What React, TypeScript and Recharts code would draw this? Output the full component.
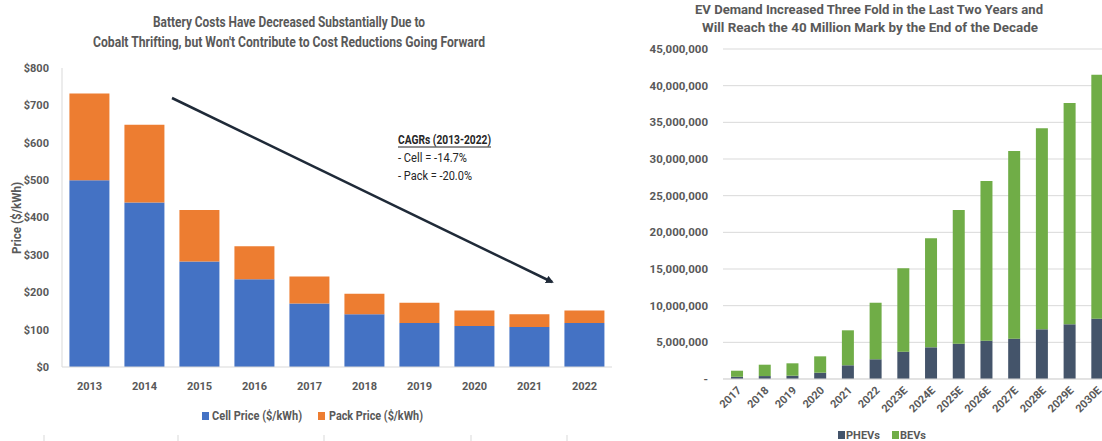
import React from "react";
import { BarChart, Bar, XAxis, YAxis, CartesianGrid } from "recharts";

// battery cost chart ($/kWh)
const costYears = ["2013", "2014", "2015", "2016", "2017", "2018", "2019", "2020", "2021", "2022"];
const cellPrice = [500, 440, 282, 235, 170, 141, 118, 110, 107, 118];
const packPremium = [232, 208, 138, 88, 72, 55, 54, 41, 34, 33];
const priceTicks = [0, 100, 200, 300, 400, 500, 600, 700, 800];

// EV demand chart (units)
const evYears = ["2017", "2018", "2019", "2020", "2021", "2022", "2023E", "2024E", "2025E", "2026E", "2027E", "2028E", "2029E", "2030E"];
const phevs = [300000, 400000, 450000, 860000, 1870000, 2690000, 3730000, 4320000, 4820000, 5230000, 5500000, 6780000, 7460000, 8230000];
const bevs = [830000, 1550000, 1690000, 2230000, 4770000, 7710000, 11370000, 14880000, 18230000, 21770000, 25600000, 27420000, 30190000, 33270000];
const evTicks = [0, 5000000, 10000000, 15000000, 20000000, 25000000, 30000000, 35000000, 40000000, 45000000];

const costData = costYears.map((year, i) => ({ year, cell: cellPrice[i], pack: packPremium[i] }));
const evData = evYears.map((year, i) => ({ year, phev: phevs[i], bev: bevs[i] }));

const FONT = "Roboto, 'Noto Sans', sans-serif";
const GREY = "#595959";

const EvTick = (props: any) => {
    const { x, y, payload } = props;
    return (
        <text
            x={x + 5}
            y={y + 12}
            transform={`rotate(-45, ${x + 5}, ${y + 12})`}
            textAnchor="end"
            fontFamily={FONT}
            fontWeight="bold"
            fontSize={11}
            fill={GREY}
        >
            {payload.value}
        </text>
    );
};

export default function App() {
    return (
        <div style={{ position: "absolute", left: 0, top: 0, width: 1102, height: 441, overflow: "hidden", background: "#fff" }}>
            <div style={{ position: "absolute", left: 0, top: 0 }}>
                <BarChart
                    width={620}
                    height={441}
                    data={costData}
                    margin={{ top: 68, right: 8, bottom: 44, left: 0 }}
                    barCategoryGap="13.5%"
                >
                    <XAxis
                        dataKey="year"
                        height={30}
                        tickLine={false}
                        tickSize={0}
                        tickMargin={15}
                        axisLine={{ stroke: "#D9D9D9" }}
                        tick={{ fontFamily: FONT, fontWeight: "bold", fontSize: 11, fill: GREY }}
                    />
                    <YAxis
                        width={62}
                        domain={[0, 800]}
                        ticks={priceTicks}
                        interval={0}
                        tickLine={false}
                        tickSize={0}
                        tickMargin={13}
                        axisLine={{ stroke: "#D9D9D9" }}
                        tickFormatter={(v: number) => `$${v}`}
                        tick={{ fontFamily: FONT, fontWeight: "bold", fontSize: 11, fill: GREY }}
                    />
                    <Bar dataKey="cell" stackId="a" fill="#4472C4" isAnimationActive={false} />
                    <Bar dataKey="pack" stackId="a" fill="#ED7D31" isAnimationActive={false} />
                </BarChart>
            </div>

            <div style={{ position: "absolute", left: 600, top: 0 }}>
                <BarChart
                    width={530}
                    height={441}
                    data={evData}
                    margin={{ top: 49, right: 19, bottom: 12, left: 0 }}
                    barCategoryGap="29%"
                >
                    <CartesianGrid vertical={false} stroke="#D9D9D9" />
                    <XAxis
                        dataKey="year"
                        height={50}
                        interval={0}
                        tickLine={false}
                        tickSize={0}
                        tickMargin={0}
                        axisLine={{ stroke: "#D9D9D9" }}
                        tick={<EvTick />}
                    />
                    <YAxis
                        width={123}
                        domain={[0, 45000000]}
                        ticks={evTicks}
                        interval={0}
                        tickLine={false}
                        axisLine={false}
                        tickSize={0}
                        tickMargin={15}
                        tickFormatter={(v: number) => (v === 0 ? "-" : v.toLocaleString("en-US"))}
                        tick={{ fontFamily: FONT, fontWeight: "bold", fontSize: 11.5, fill: GREY }}
                    />
                    <Bar dataKey="phev" stackId="b" fill="#44546A" isAnimationActive={false} />
                    <Bar dataKey="bev" stackId="b" fill="#70AD47" isAnimationActive={false} />
                </BarChart>
            </div>

            <svg width={1102} height={441} style={{ position: "absolute", left: 0, top: 0, pointerEvents: "none" }}>
                <defs>
                    <marker id="head" markerWidth="8" markerHeight="8" refX="6" refY="4" orient="auto" markerUnits="userSpaceOnUse">
                        <path d="M0,0 L8,4 L0,8 z" fill="#1F2A38" />
                    </marker>
                </defs>
                {/* titles */}
                <g fontFamily={FONT} fontWeight="bold" fill={GREY} textAnchor="middle">
                    <text x={289} y={27} fontSize={15} textLength={272} lengthAdjust="spacingAndGlyphs">
                        Battery Costs Have Decreased Substantially Due to
                    </text>
                    <text x={289} y={47} fontSize={15} textLength={392} lengthAdjust="spacingAndGlyphs">
                        Cobalt Thrifting, but Won't Contribute to Cost Reductions Going Forward
                    </text>
                    <text x={869} y={14} fontSize={13} textLength={348} lengthAdjust="spacingAndGlyphs">
                        EV Demand Increased Three Fold in the Last Two Years and
                    </text>
                    <text x={870} y={31.5} fontSize={13} textLength={336} lengthAdjust="spacingAndGlyphs">
                        Will Reach the 40 Million Mark by the End of the Decade
                    </text>
                    <text
                        x={17}
                        y={218}
                        fontSize={12}
                        transform="rotate(-90, 17, 218)"
                        dy="0.35em"
                        textLength={72}
                        lengthAdjust="spacingAndGlyphs"
                    >
                        Price ($/kWh)
                    </text>
                </g>

                {/* trend arrow */}
                <line x1={172} y1={98} x2={552} y2={282} stroke="#1F2A38" strokeWidth={2.5} markerEnd="url(#head)" />

                {/* CAGR note */}
                <g fontFamily={FONT} fill="#262626" fontSize={12}>
                    <text x={398} y={144} fontWeight="bold" textLength={93} lengthAdjust="spacingAndGlyphs">
                        CAGRs (2013-2022)
                    </text>
                    <line x1={398} y1={147} x2={491} y2={147} stroke="#262626" strokeWidth={1} />
                    <text x={398} y={162} textLength={69} lengthAdjust="spacingAndGlyphs">- Cell = -14.7%</text>
                    <text x={398} y={180} textLength={74} lengthAdjust="spacingAndGlyphs">- Pack = -20.0%</text>
                </g>

                {/* legends */}
                <g fontFamily={FONT} fontWeight="bold" fill={GREY} fontSize={12}>
                    <rect x={202} y={412} width={7} height={8} fill="#4472C4" />
                    <text x={212} y={420} textLength={90} lengthAdjust="spacingAndGlyphs">Cell Price ($/kWh)</text>
                    <rect x={318} y={412} width={7} height={8} fill="#ED7D31" />
                    <text x={329} y={420} textLength={94} lengthAdjust="spacingAndGlyphs">Pack Price ($/kWh)</text>

                    <rect x={838} y={431} width={7} height={8} fill="#44546A" />
                    <text x={846} y={439} fontSize={11} textLength={34} lengthAdjust="spacingAndGlyphs">PHEVs</text>
                    <rect x={892} y={431} width={7} height={8} fill="#70AD47" />
                    <text x={900} y={439} fontSize={11} textLength={26} lengthAdjust="spacingAndGlyphs">BEVs</text>
                </g>

                {/* table borders peeking at the bottom */}
                {[44, 178, 324, 471, 567].map((x) => (
                    <line key={x} x1={x} y1={435} x2={x} y2={441} stroke="#D9D9D9" strokeWidth={1} />
                ))}
            </svg>
        </div>
    );
}
